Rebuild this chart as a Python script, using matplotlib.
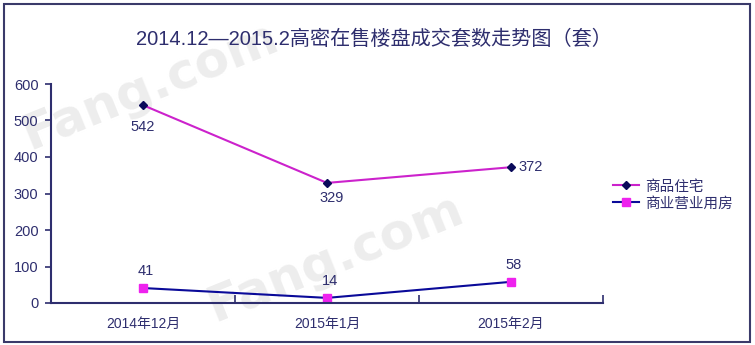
import matplotlib
matplotlib.use('Agg')
from matplotlib import pyplot as plt
from matplotlib.patches import Rectangle

plt.rcParams['font.family'] = ['Liberation Sans', 'Noto Sans CJK SC', 'DejaVu Sans']

months = ['2014年12月', '2015年1月', '2015年2月']
housing = [542, 329, 372]      # 商品住宅
commercial = [41, 14, 58]      # 商业营业用房
yticks = [0, 100, 200, 300, 400, 500, 600]

navy = '#2e2e6e'

fig = plt.figure(figsize=(7.55, 3.45), dpi=100)
ax = fig.add_axes([51 / 755, 42 / 345, 552 / 755, 219 / 345])
ax.set_facecolor('none')
ax.set_zorder(2)

# watermark
for x, y in [(0.02, 0.54), (0.265, 0.04)]:
    fig.text(x, y, 'Fang.com', fontsize=36, fontweight='bold', color='#ededed',
             rotation=22, va='bottom', zorder=0.5, family='DejaVu Sans')

x = range(len(months))
ax.plot(x, housing, color='#cc22cc', lw=1.5, marker='D', ms=4.5,
        mfc='#0a0a5a', mec='#0a0a5a', label='商品住宅')
ax.plot(x, commercial, color='#0a0a99', lw=1.5, marker='s', ms=6,
        mfc='#ee22ee', mec='#ee22ee', label='商业营业用房')

lab = dict(fontsize=10.5, color=navy, ha='center')
ax.annotate(str(housing[0]), (0, housing[0]), xytext=(0, -16), textcoords='offset points', va='center', **lab)
ax.annotate(str(housing[1]), (1, housing[1]), xytext=(3, -11), textcoords='offset points', va='center', **lab)
ax.annotate(str(housing[2]), (2, housing[2]), xytext=(14, 0), textcoords='offset points', va='center', **lab)
for i, v in enumerate(commercial):
    ax.annotate(str(v), (i, v), xytext=(2, 12), textcoords='offset points', va='center', **lab)

ax.set_xlim(-0.5, 2.5)
ax.set_ylim(0, 600)
ax.set_yticks(yticks)
ax.set_xticks(list(x))
ax.set_xticklabels(months)
ax.set_xticks([0.5, 1.5, 2.5], minor=True)
ax.tick_params(axis='x', which='major', length=0, pad=10, labelsize=10, labelcolor=navy)
ax.tick_params(axis='x', which='minor', direction='in', length=6, width=1.2, color=navy)
ax.tick_params(axis='y', length=4, width=1.2, color=navy, labelsize=10.5, labelcolor=navy, pad=5)
for s in ['top', 'right']:
    ax.spines[s].set_visible(False)
for s in ['left', 'bottom']:
    ax.spines[s].set_color(navy)
    ax.spines[s].set_linewidth(1.5)

fig.text(0.495, 0.885, '2014.12—2015.2高密在售楼盘成交套数走势图（套）',
         ha='center', va='center', fontsize=14.5, color=navy)

fig.legend(loc='center left', bbox_to_anchor=(600 / 755, 1 - 195 / 345), frameon=False,
           fontsize=10.5, handlelength=1.8, handletextpad=0.4, labelspacing=0.2,
           labelcolor=navy)

fig.patches.append(Rectangle((4 / 755, 3 / 345), 746 / 755, 338 / 345, transform=fig.transFigure,
                             fill=False, edgecolor='#3a3a6a', lw=1.5))

fig.savefig('out.png', dpi=100)
